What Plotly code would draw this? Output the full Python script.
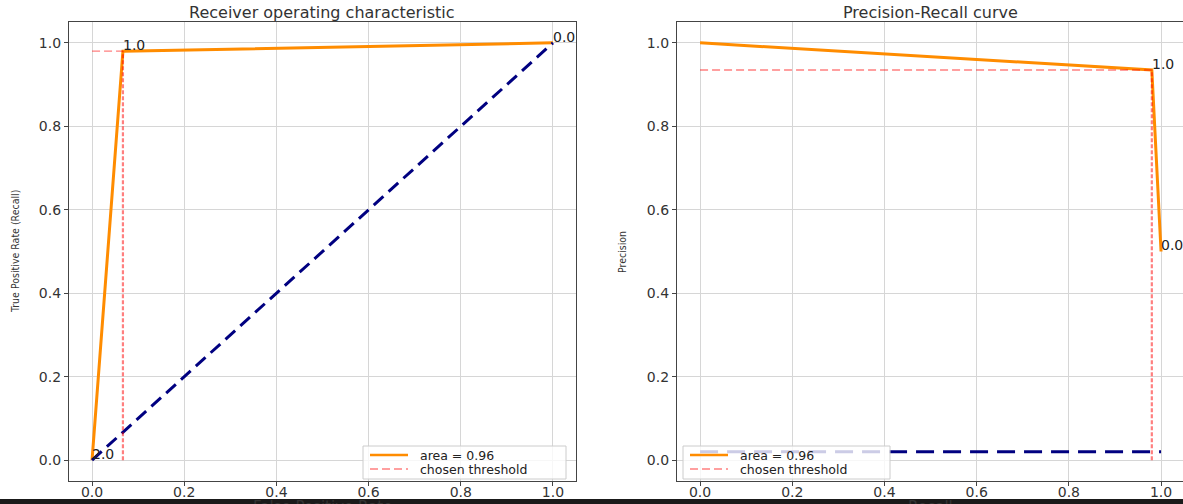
import plotly.graph_objects as go

# ---- data ----
fpr = [0.0, 0.067, 1.0]
tpr = [0.0, 0.98, 1.0]
roc_labels = ["2.0", "1.0", "0.0"]
diag_x = [0.0, 1.0]
diag_y = [0.0, 1.0]

recall = [0.0, 0.98, 1.0]
precision = [1.0, 0.935, 0.5]
pr_label_x = [0.98, 1.0]
pr_label_y = [0.935, 0.5]
pr_labels = ["1.0", "0.0"]
baseline_x = [0.0, 1.0]
baseline_y = [0.02, 0.02]

chosen_idx = 1
area_text = "area = 0.96"
thr_text = "chosen threshold"
ticks = [0.0, 0.2, 0.4, 0.6, 0.8, 1.0]
tick_text = ["0.0", "0.2", "0.4", "0.6", "0.8", "1.0"]

W, H = 1183, 504
FONT = "DejaVu Sans, Verdana, sans-serif"
NARROW = "DejaVu Sans Condensed, Liberation Sans Narrow, Arial Narrow, sans-serif"
ORANGE = "#ff8c00"
NAVY = "#000080"
RED = "rgba(255,0,0,0.5)"


def px(x):
    return x / W


def py(y):
    return 1 - y / H


fig = go.Figure()

# ROC
fig.add_trace(go.Scatter(x=fpr, y=tpr, mode="lines", line=dict(color=ORANGE, width=3),
                         xaxis="x", yaxis="y", showlegend=False))
fig.add_trace(go.Scatter(x=diag_x, y=diag_y, mode="lines",
                         line=dict(color=NAVY, width=3, dash="13px,7px"),
                         xaxis="x", yaxis="y", showlegend=False))
fig.add_trace(go.Scatter(x=[0, fpr[chosen_idx]], y=[tpr[chosen_idx]] * 2, mode="lines",
                         line=dict(color=RED, width=1.3, dash="8px,4px"),
                         xaxis="x", yaxis="y", showlegend=False))
fig.add_trace(go.Scatter(x=[fpr[chosen_idx]] * 2, y=[0, tpr[chosen_idx]], mode="lines",
                         line=dict(color=RED, width=2.2, dash="4px,2px"),
                         xaxis="x", yaxis="y", showlegend=False))

# PR
fig.add_trace(go.Scatter(x=recall, y=precision, mode="lines", line=dict(color=ORANGE, width=3),
                         xaxis="x2", yaxis="y2", showlegend=False))
fig.add_trace(go.Scatter(x=baseline_x, y=baseline_y, mode="lines",
                         line=dict(color=NAVY, width=3, dash="18px,9px"),
                         xaxis="x2", yaxis="y2", showlegend=False))
fig.add_trace(go.Scatter(x=[0, recall[chosen_idx]], y=[precision[chosen_idx]] * 2, mode="lines",
                         line=dict(color=RED, width=1.3, dash="8px,4px"),
                         xaxis="x2", yaxis="y2", showlegend=False))
fig.add_trace(go.Scatter(x=[recall[chosen_idx]] * 2, y=[0, precision[chosen_idx]], mode="lines",
                         line=dict(color=RED, width=2.2, dash="4px,2px"),
                         xaxis="x2", yaxis="y2", showlegend=False))

annotations = []
for xv, yv, t in zip(fpr, tpr, roc_labels):
    annotations.append(dict(x=xv, y=yv, xref="x", yref="y", text=t, showarrow=False,
                            xanchor="left", yanchor="bottom", yshift=-4, xshift=-2,
                            font=dict(family=FONT, size=14, color="#222")))
for xv, yv, t in zip(pr_label_x, pr_label_y, pr_labels):
    annotations.append(dict(x=xv, y=yv, xref="x2", yref="y2", text=t, showarrow=False,
                            xanchor="left", yanchor="bottom", yshift=-4, xshift=-2,
                            font=dict(family=FONT, size=14, color="#222")))

# titles
annotations.append(dict(x=px(322), y=py(12), xref="paper", yref="paper",
                        text="Receiver operating characteristic", showarrow=False,
                        xanchor="center", yanchor="middle",
                        font=dict(family=FONT, size=16, color="#333")))
annotations.append(dict(x=px(930), y=py(12), xref="paper", yref="paper",
                        text="Precision-Recall curve", showarrow=False,
                        xanchor="center", yanchor="middle",
                        font=dict(family=FONT, size=16, color="#333")))
# axis titles
annotations.append(dict(x=px(15), y=py(252), xref="paper", yref="paper",
                        text="True Positive Rate (Recall)", showarrow=False, textangle=-90,
                        xanchor="center", yanchor="middle",
                        font=dict(family=NARROW, size=10.5, color="#333")))
annotations.append(dict(x=px(622), y=py(252), xref="paper", yref="paper",
                        text="Precision", showarrow=False, textangle=-90,
                        xanchor="center", yanchor="middle",
                        font=dict(family=NARROW, size=10.5, color="#333")))
annotations.append(dict(x=px(322), y=py(496), xref="paper", yref="paper",
                        text="False Positive Rate", showarrow=False,
                        xanchor="center", yanchor="top",
                        font=dict(family=FONT, size=15, color="#333")))
annotations.append(dict(x=px(930), y=py(496), xref="paper", yref="paper",
                        text="Recall", showarrow=False,
                        xanchor="center", yanchor="top",
                        font=dict(family=FONT, size=15, color="#333")))

shapes = []


def add_legend(x0, x1, y0, y1):
    shapes.append(dict(type="rect", xref="paper", yref="paper",
                       x0=px(x0), x1=px(x1), y0=py(y1), y1=py(y0),
                       fillcolor="rgba(255,255,255,0.8)", line=dict(color="#cccccc", width=1),
                       layer="above"))
    shapes.append(dict(type="line", xref="paper", yref="paper",
                       x0=px(x0 + 7), x1=px(x0 + 45), y0=py(y0 + 9), y1=py(y0 + 9),
                       line=dict(color=ORANGE, width=2.5), layer="above"))
    shapes.append(dict(type="line", xref="paper", yref="paper",
                       x0=px(x0 + 7), x1=px(x0 + 45), y0=py(y0 + 23), y1=py(y0 + 23),
                       line=dict(color=RED, width=1.5, dash="8px,4px"), layer="above"))
    annotations.append(dict(x=px(x0 + 55), y=py(y0 + 9), xref="paper", yref="paper",
                            text=area_text, showarrow=False, xanchor="left", yanchor="middle",
                            font=dict(family=FONT, size=12.5, color="#222")))
    annotations.append(dict(x=px(x0 + 55), y=py(y0 + 23), xref="paper", yref="paper",
                            text=thr_text, showarrow=False, xanchor="left", yanchor="middle",
                            font=dict(family=FONT, size=12.5, color="#222")))


add_legend(363, 566, 446, 479)
add_legend(683, 890, 446, 479)

# bottom dark bar
shapes.append(dict(type="rect", xref="paper", yref="paper", x0=0, x1=1, y0=0, y1=5 / H,
                   fillcolor="#1a1a1a", line=dict(width=0), layer="above"))

axis_common = dict(
    tickvals=ticks, ticktext=tick_text, showgrid=True, gridcolor="#d6d6d6", gridwidth=1,
    zeroline=False, showline=True, linecolor="#444", linewidth=1.2,
    ticks="outside", ticklen=4, tickcolor="#444", tickwidth=1,
    tickfont=dict(family=FONT, size=14, color="#333"), automargin=False,
)

fig.update_layout(
    width=W, height=H,
    margin=dict(l=0, r=0, t=0, b=0),
    paper_bgcolor="white", plot_bgcolor="white",
    showlegend=False,
    xaxis=dict(domain=[px(69), px(576)], range=[-0.05, 1.05], anchor="y", mirror=True,
               ticklabelstandoff=-6, **axis_common),
    yaxis=dict(domain=[py(481), py(22)], range=[-0.05, 1.05], anchor="x", mirror=True, **axis_common),
    xaxis2=dict(domain=[px(677), 1.0], range=[-0.05, -0.05 + 506 / 461.0], anchor="y2", mirror=True,
                ticklabelstandoff=-6, **axis_common),
    yaxis2=dict(domain=[py(481), py(22)], range=[-0.05, 1.05], anchor="x2", mirror=False, **axis_common),
    annotations=annotations,
    shapes=shapes,
)

fig.write_html("out.html")
